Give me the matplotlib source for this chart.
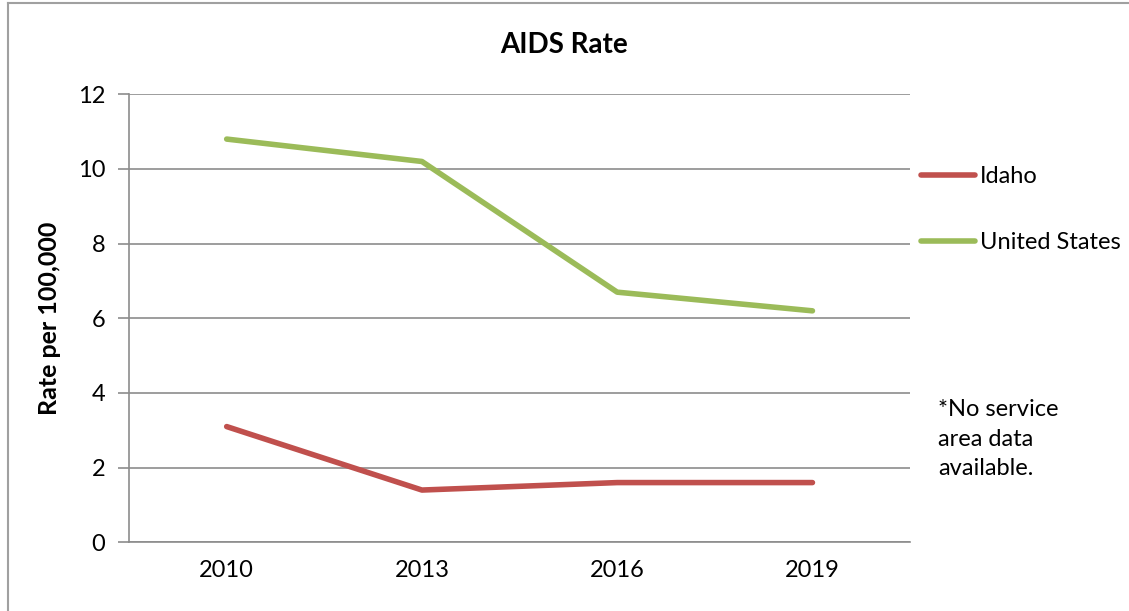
import matplotlib.pyplot as plt
from matplotlib.lines import Line2D

plt.rcParams['font.family'] = ['Lato', 'DejaVu Sans']

years = ['2010', '2013', '2016', '2019']
idaho = [3.1, 1.4, 1.6, 1.6]
united_states = [10.8, 10.2, 6.7, 6.2]

red = '#C0504D'
green = '#9BBB59'
grid_color = '#8C8C8C'

fig = plt.figure(figsize=(11.29, 6.11), dpi=100)
ax = fig.add_axes([0.1143, 0.1124, 0.6918, 0.7333])

x = range(len(years))
ax.plot(x, idaho, color=red, linewidth=4, solid_capstyle='round', label='Idaho')
ax.plot(x, united_states, color=green, linewidth=4, solid_capstyle='round',
        label='United States')

ax.set_xlim(-0.5, len(years) - 0.5)
ax.set_ylim(0, 12)
ax.set_yticks(range(0, 13, 2))
ax.set_xticks(list(x))
ax.set_xticklabels(years)
ax.grid(axis='y', color=grid_color, linewidth=1.2)
ax.set_axisbelow(True)

for side in ['top', 'right']:
    ax.spines[side].set_visible(False)
ax.spines['left'].set_color(grid_color)
ax.spines['bottom'].set_color(grid_color)
ax.spines['left'].set_linewidth(1.2)
ax.spines['bottom'].set_linewidth(1.2)
ax.tick_params(axis='y', length=8, width=1.2, color=grid_color, labelsize=17, pad=9)
ax.tick_params(axis='x', length=0, labelsize=17, pad=13)

ax.set_ylabel('Rate per 100,000', fontsize=18, fontweight='bold', labelpad=12)
fig.text(0.5, 0.926, 'AIDS Rate', ha='center', va='center', fontsize=20, fontweight='bold')

ax.legend(loc='center left', bbox_to_anchor=(1.014, 0.742), frameon=False,
          fontsize=17, handlelength=2.3, handletextpad=0.2, labelspacing=1.9,
          borderaxespad=0, borderpad=0)

fig.text(0.831, 0.2815, '*No service\narea data\navailable.', ha='left', va='center',
         fontsize=17, linespacing=1.5)

# chart frame (top and left edges visible in the reference)
fig.add_artist(Line2D([0.007, 1.0], [0.995, 0.995], color='#A0A0A0', linewidth=1.5))
fig.add_artist(Line2D([0.007, 0.007], [0.0, 0.995], color='#A0A0A0', linewidth=1.5))

fig.savefig('out.png', dpi=100)
